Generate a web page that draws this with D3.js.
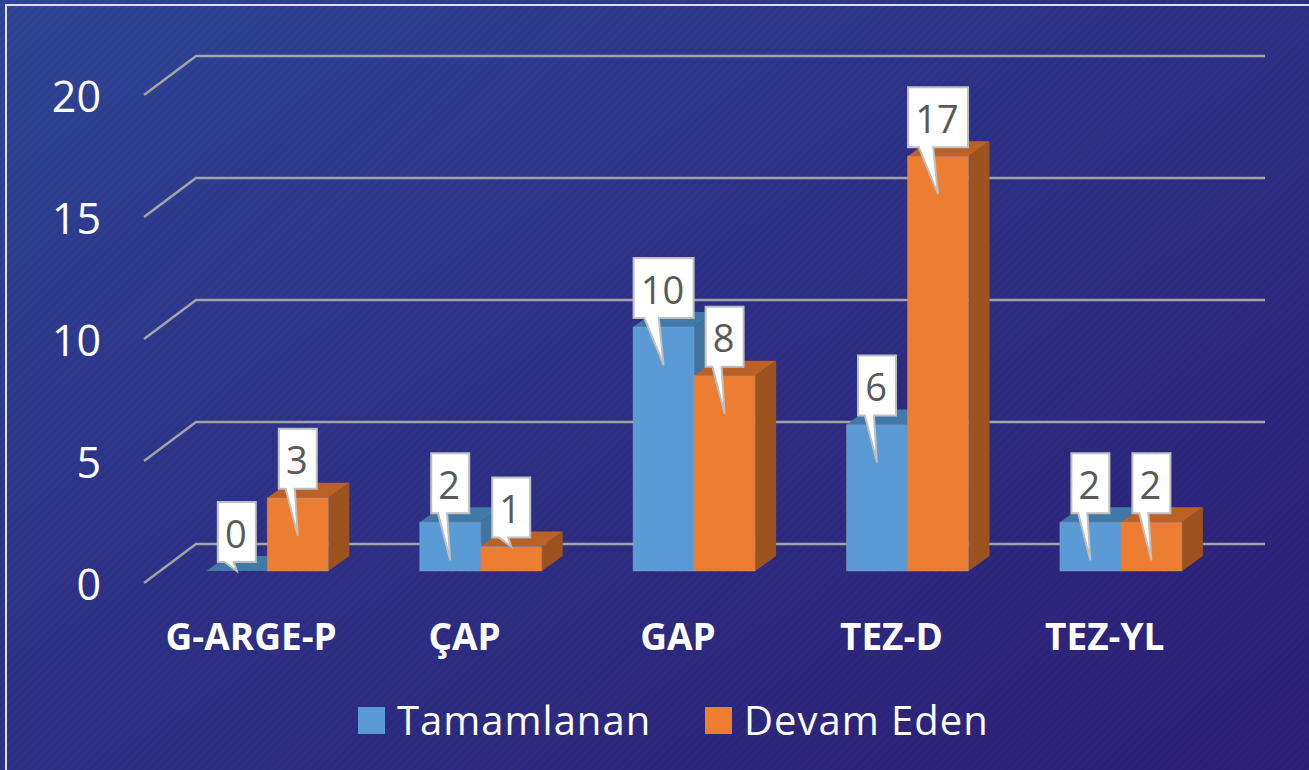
<!DOCTYPE html>
<html>
<head>
<meta charset="utf-8">
<script src="https://cdn.jsdelivr.net/npm/d3@7"></script>
<style>
  html, body { margin: 0; padding: 0; background: #2e2a80; overflow: hidden; }
  svg { display: block; font-family: "Open Sans", sans-serif; }
</style>
</head>
<body>
<svg></svg>
<script>
var categories = ["G-ARGE-P", "ÇAP", "GAP", "TEZ-D", "TEZ-YL"];
var seriesNames = ["Tamamlanan", "Devam Eden"];
var tamamlanan = [0, 2, 10, 6, 2];
var devamEden = [3, 1, 8, 17, 2];
var yTicks = [0, 5, 10, 15, 20];
var seriesColors = ["#5b9bd5", "#ed7d31"];
var topColors = ["#4079a8", "#bc6125"];
var sideColors = ["#41739f", "#9c531f"];

var width = 1309, height = 770;

var svg = d3.select("svg")
    .attr("width", width)
    .attr("height", height);

// background gradient and the faint diagonal stripes
var defs = svg.append("defs");
var grad = defs.append("linearGradient")
    .attr("id", "bg")
    .attr("x1", "0%").attr("y1", "0%")
    .attr("x2", "100%").attr("y2", "100%");
grad.append("stop").attr("offset", "0%").attr("stop-color", "#2f4698");
grad.append("stop").attr("offset", "45%").attr("stop-color", "#2e3288");
grad.append("stop").attr("offset", "100%").attr("stop-color", "#2e1f78");

var stripes = defs.append("pattern")
    .attr("id", "stripes")
    .attr("width", 6).attr("height", 6)
    .attr("patternUnits", "userSpaceOnUse")
    .attr("patternTransform", "rotate(-45)");
stripes.append("rect")
    .attr("width", 6).attr("height", 3)
    .attr("fill", "#000").attr("opacity", 0.05);

svg.append("rect").attr("width", width).attr("height", height).attr("fill", "url(#bg)");
svg.append("rect").attr("width", width).attr("height", height).attr("fill", "url(#stripes)");

// frame
svg.append("rect")
    .attr("x", 6).attr("y", 5)
    .attr("width", 1340).attr("height", 800)
    .attr("fill", "none")
    .attr("stroke", "#dedede")
    .attr("stroke-width", 2);

// 3d offsets
var depthX = 52, depthY = -39;   // whole floor
var barShiftY = -12;             // bars stand in the middle of the floor
var barDepthX = 21, barDepthY = -15;

var y = d3.scaleLinear().domain([0, 20]).range([583, 95]);
var x0 = d3.scaleBand().domain(categories).range([160.5, 1227.5]);
var x1 = d3.scaleBand().domain(seriesNames).range([45.8, 167.8]);

// gridlines
svg.append("g").selectAll("path")
    .data(yTicks)
    .enter()
    .append("path")
    .attr("d", function (d) {
      return d3.line()([[144, y(d)], [144 + depthX, y(d) + depthY], [1265, y(d) + depthY]]);
    })
    .attr("fill", "none")
    .attr("stroke", "#a3a3a8")
    .attr("stroke-width", 2.5);

// y axis labels
var yAxis = svg.append("g")
    .attr("transform", "translate(101,3)")
    .call(d3.axisLeft(y).tickValues(yTicks).tickSize(0).tickPadding(0));
yAxis.select(".domain").remove();
yAxis.selectAll("text")
    .attr("font-family", "Open Sans")
    .attr("font-size", 43)
    .attr("fill", "#fff");

// x axis labels
var xAxis = svg.append("g")
    .attr("transform", "translate(-16,0)");
xAxis.selectAll("text")
    .data(categories)
    .enter()
    .append("text")
    .attr("x", function (d) { return x0(d) + x0.bandwidth() / 2; })
    .attr("y", 650)
    .attr("text-anchor", "middle")
    .attr("font-size", 37)
    .attr("font-weight", "bold")
    .attr("fill", "#fff")
    .text(function (d) { return d; });

// one record per bar
var bars = [];
categories.forEach(function (c, i) {
  bars.push({cat: c, s: 0, value: tamamlanan[i]});
  bars.push({cat: c, s: 1, value: devamEden[i]});
});

function barX(d) { return x0(d.cat) + x1(seriesNames[d.s]); }
function barTop(d) { return y(d.value) + barShiftY; }
var barBase = y(0) + barShiftY;

var barG = svg.append("g").selectAll("g")
    .data(bars)
    .enter()
    .append("g");

// side face
barG.append("path")
    .attr("d", function (d) {
      var r = barX(d) + x1.bandwidth();
      return d3.line()([[r, barTop(d)], [r + barDepthX, barTop(d) + barDepthY],
                        [r + barDepthX, barBase + barDepthY], [r, barBase]]) + "Z";
    })
    .attr("fill", function (d) { return sideColors[d.s]; });

// top face
barG.append("path")
    .attr("d", function (d) {
      var l = barX(d), r = l + x1.bandwidth();
      return d3.line()([[l, barTop(d)], [l + barDepthX, barTop(d) + barDepthY],
                        [r + barDepthX, barTop(d) + barDepthY], [r, barTop(d)]]) + "Z";
    })
    .attr("fill", function (d) { return topColors[d.s]; });

// front face
barG.append("rect")
    .attr("x", barX)
    .attr("y", barTop)
    .attr("width", x1.bandwidth())
    .attr("height", function (d) { return barBase - barTop(d); })
    .attr("fill", function (d) { return seriesColors[d.s]; })
    .attr("stroke", "#9a9ab0")
    .attr("stroke-opacity", 0.45);

// callout labels, drawn last so they sit over every bar
var labelG = svg.append("g").selectAll("g")
    .data(bars)
    .enter()
    .append("g");

function boxW(d) { return d.value >= 10 ? 60 : 38; }
function boxLeft(d) { return barX(d) + x1.bandwidth() / 2 - boxW(d) / 2; }

labelG.append("path")
    .attr("d", function (d) {
      var w = boxW(d), l = boxLeft(d), b = barTop(d) - 9, t = b - 60;
      var tip = d.value >= 2 ? barTop(d) + 38 : barTop(d);
      return d3.line()([[l, t], [l + w, t], [l + w, b], [l + w * 0.42, b],
                        [l + w * 0.5, tip], [l + w * 0.18, b], [l, b]]) + "Z";
    })
    .attr("fill", "#fff")
    .attr("stroke", "#bfbfbf")
    .attr("stroke-width", 2);

labelG.append("text")
    .attr("x", function (d) { return boxLeft(d) + boxW(d) / 2 - 1; })
    .attr("y", function (d) { return barTop(d) - 37; })
    .attr("dy", "0.36em")
    .attr("text-anchor", "middle")
    .attr("font-size", 38)
    .attr("fill", "#595959")
    .text(function (d) { return d.value; });

// legend
var legendX = d3.scaleOrdinal().domain(seriesNames).range([358, 705]);
var legend = svg.append("g").selectAll("g")
    .data(seriesNames)
    .enter()
    .append("g")
    .attr("transform", function (d) { return "translate(" + legendX(d) + ",707)"; });
legend.append("rect")
    .attr("width", 27).attr("height", 27)
    .attr("fill", function (d, i) { return seriesColors[i]; });
legend.append("text")
    .attr("x", 39).attr("y", 28)
    .attr("font-size", 40)
    .attr("letter-spacing", 1)
    .attr("fill", "#fff")
    .text(function (d) { return d; });
</script>
</body>
</html>
